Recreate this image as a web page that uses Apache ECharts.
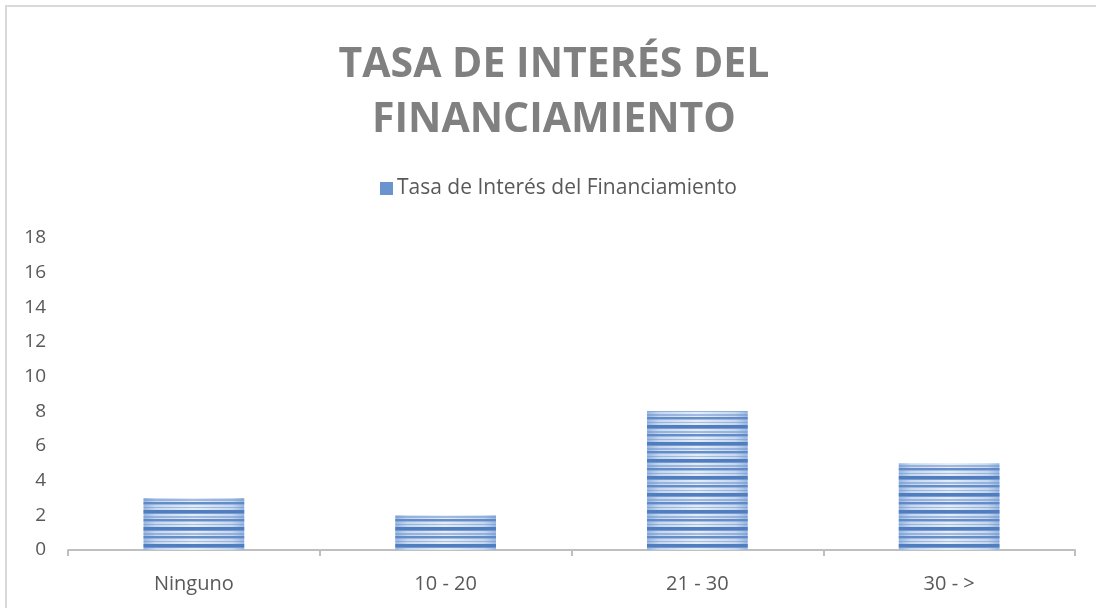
<!DOCTYPE html>
<html>
<head>
<meta charset="utf-8">
<script src="https://cdn.jsdelivr.net/npm/echarts@6/dist/echarts.min.js"></script>
<style>html,body{margin:0;padding:0;background:#fff;}#c{width:1096px;height:608px;}</style>
</head>
<body>
<div id="c"></div>
<script>
const categories = ['Ninguno', '10 - 20', '21 - 30', '30 - >'];
const values = [3, 2, 8, 5];
const seriesName = 'Tasa de Interés del Financiamiento';
const titleText = 'TASA DE INTERÉS DEL\nFINANCIAMIENTO';

function stripeCanvas() {
  const c = document.createElement('canvas');
  c.width = 4; c.height = 17;
  const g = c.getContext('2d');
  const rows = [
    [0, 3, 'rgba(80,125,190,1)'],
    [3, 1, 'rgba(105,146,206,0.85)'],
    [6, 2, 'rgba(115,154,210,0.6)'],
    [9, 2, 'rgba(88,131,195,0.9)'],
    [11, 1, 'rgba(115,154,210,0.55)'],
    [14, 1, 'rgba(105,146,206,0.5)']
  ];
  rows.forEach(r => { g.fillStyle = r[2]; g.fillRect(0, r[0], 4, r[1]); });
  return c;
}

const chart = echarts.init(document.getElementById('c'), null, {renderer: 'canvas'});
chart.setOption({
  backgroundColor: '#fff',
  animation: false,
  graphic: [{
    type: 'rect', shape: {x: 6, y: 6, width: 1100, height: 620},
    style: {fill: 'none', stroke: '#d9d9d9', lineWidth: 2}, silent: true, z: -1
  }],
  title: {
    text: titleText, left: 549, top: 33, textAlign: 'center',
    textStyle: {fontFamily: 'Open Sans', fontWeight: 'bold', fontSize: 41, color: '#808080', lineHeight: 55}
  },
  legend: {
    data: [{name: seriesName, itemStyle: {color: '#6a94cd'}}], top: 173, left: 375, icon: 'rect',
    itemWidth: 13, itemHeight: 13, itemGap: 5,
    textStyle: {fontFamily: 'Open Sans', fontSize: 21, color: '#595959', padding: [0, 0, 0, -1]}
  },
  grid: {left: 68, right: 21, top: 238, bottom: 58},
  xAxis: {
    type: 'category', data: categories,
    axisLine: {lineStyle: {color: '#bfbfbf', width: 2}},
    axisTick: {show: true, length: 6, lineStyle: {color: '#bfbfbf', width: 2}},
    axisLabel: {fontFamily: 'Open Sans', fontSize: 20, color: '#595959', margin: 24}
  },
  yAxis: {
    type: 'value', min: 0, max: 18, interval: 2,
    axisLine: {show: false}, axisTick: {show: false}, splitLine: {show: false},
    axisLabel: {fontFamily: 'Open Sans', fontSize: 19, color: '#595959', margin: 22}
  },
  series: [{
    name: seriesName, type: 'bar', data: values, barWidth: '40%',
    itemStyle: {color: {type: 'linear', x: 0, y: 0, x2: 1, y2: 0, colorStops: [
      {offset: 0, color: '#98b6e0'}, {offset: 0.12, color: '#c6d7ee'}, {offset: 0.5, color: '#e4ecf7'},
      {offset: 0.88, color: '#c6d7ee'}, {offset: 1, color: '#98b6e0'}]}}
  }, {
    name: 'stripes', type: 'bar', data: values, barWidth: '40%', barGap: '-100%',
    itemStyle: {color: {image: stripeCanvas(), repeat: 'repeat'}}, silent: true
  }]
});
</script>
</body>
</html>
